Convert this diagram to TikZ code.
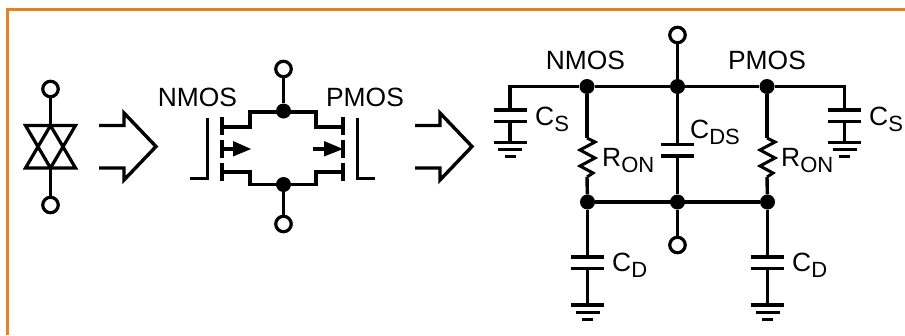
\documentclass[tikz,border=0pt]{standalone}
\usepackage{fontspec}
\setmainfont{Liberation Sans}
\usetikzlibrary{arrows.meta}
\definecolor{frameorange}{RGB}{232,128,36}
\tikzset{
  wire/.style={line width=3.4pt,line cap=butt,line join=miter},
  plate/.style={line width=3.4pt},
  term/.style={circle,draw,line width=3.2pt,fill=white,minimum size=15.5pt,inner sep=0pt},
  dotnode/.style={circle,fill=black,minimum size=15pt,inner sep=0pt},
  lab/.style={font=\fontsize{26.4}{26.4}\selectfont,inner sep=0pt},
}
\newcommand{\capgnd}[2]{%
  \draw[plate] (#1-16.5,#2) -- (#1+16.5,#2) (#1-16.5,#2+11.5) -- (#1+16.5,#2+11.5);
}
\newcommand{\gnd}[2]{%
  \draw[plate] (#1-16.5,#2) -- (#1+16.5,#2);
  \draw[line width=3pt] (#1-12,#2+7) -- (#1+12,#2+7);
  \draw[line width=3pt] (#1-5.5,#2+14) -- (#1+5.5,#2+14);
}
\newcommand{\zig}[2]{%
  \draw[wire,line width=3pt] (#1,#2) -- (#1+8,#2+4) -- (#1-7,#2+12) -- (#1+8,#2+20) -- (#1-7,#2+28) -- (#1+6,#2+35) -- (#1,#2+39);
}
\newcommand{\sublab}[4]{%
  \node[lab,anchor=base west] at (#1,#2) {#3\raisebox{-6pt}{\fontsize{22}{22}\selectfont #4}};
}
\begin{document}
\begin{tikzpicture}[x=1pt,y=-1pt]
\useasboundingbox (0,0) rectangle (905,335);
\fill[white] (0,0) rectangle (905,335);
\draw[frameorange,line width=3pt] (7.5,335) -- (7.5,9.5) -- (905,9.5);

% --- left symbol
\node[term] (t1) at (50.5,89) {};
\node[term] (t2) at (50.5,205) {};
\coordinate (s1) at (50.5,125.5);
\coordinate (s2) at (50.5,168);
\draw[wire] (t1) -- (s1);
\draw[wire] (t2) -- (s2);
\draw[wire,line width=3.2pt] (25.5,125.5) -- (75.5,125.5) -- (50.5,168) -- cycle;
\draw[wire,line width=3.2pt] (25.5,168) -- (75.5,168) -- (50.5,125.5) -- cycle;

% --- block arrows
\draw[wire] (99,125.5) -- (124,125.5) -- (124,113) -- (156,146.5) -- (124,180) -- (124,168) -- (99,168);
\draw[wire] (415,125.5) -- (440,125.5) -- (440,113) -- (472,146.5) -- (440,180) -- (440,168) -- (415,168);

% --- MOS pair
\node[term] (m1) at (283.5,69) {};
\node[term] (m2) at (283.5,224) {};
\node[dotnode] (md1) at (283.5,111) {};
\node[dotnode] (md2) at (283.5,184.5) {};
\draw[wire] (m1) -- (md1);
\draw[wire] (m2) -- (md2);
\draw[wire] (222,127) -- (250,127) -- (250,112) -- (316,112) -- (316,127) -- (344,127);
\draw[wire] (222,172) -- (250,172) -- (250,184.5) -- (316,184.5) -- (316,172) -- (344,172);
\foreach \x in {222,343}{
  \draw[line width=4pt] (\x,117) -- (\x,134.5);
  \draw[line width=4pt] (\x,140) -- (\x,157.5);
  \draw[line width=4pt] (\x,163) -- (\x,181);
}
\draw[wire] (190,178.5) -- (207.5,178.5) -- (207.5,117.5);
\draw[wire] (357.5,117.5) -- (357.5,178.5) -- (375,178.5);
\draw[wire] (222,149) -- (235,149);
\fill (233,141) -- (251,149) -- (233,156.5) -- cycle;
\draw[wire] (313,149) -- (325,149);
\fill (324,141) -- (343,149) -- (324,156.5) -- cycle;
\node[lab,anchor=base] at (197.5,106) {NMOS};
\node[lab,anchor=base] at (365,106) {PMOS};

% --- equivalent circuit
\node[term] (top) at (677.5,35) {};
\node[term] (bot) at (677.5,245) {};
\node[dotnode] (n1) at (587,86.5) {};
\node[dotnode] (n2) at (677.5,86.5) {};
\node[dotnode] (n3) at (767,86.5) {};
\node[dotnode] (n4) at (587.5,202) {};
\node[dotnode] (n5) at (677.5,202) {};
\node[dotnode] (n6) at (767.5,202) {};
\draw[wire] (top) -- (n2);
\draw[wire] (n5) -- (bot);
\draw[wire] (n4) -- (n6);
\draw[wire] (510,110) -- (510,86.5) -- (n1) -- (n2) -- (n3) -- (844.5,86.5) -- (844.5,110);
\capgnd{510}{110}
\draw[wire] (510,121.5) -- (510,142);
\gnd{510}{142.5}
\capgnd{844.5}{110}
\draw[wire] (844.5,121.5) -- (844.5,142);
\gnd{844.5}{142.5}
\draw[wire] (n1) -- (587,138);
\zig{587}{138}
\draw[wire] (587,177) -- (n4);
\draw[wire] (n3) -- (767,138);
\zig{767}{138}
\draw[wire] (767,177) -- (n6);
\draw[wire] (n2) -- (677.5,144.5);
\capgnd{677.5}{144.5}
\draw[wire] (677.5,156) -- (n5);
\draw[wire] (n4) -- (587.5,257);
\capgnd{587.5}{257}
\draw[wire] (587.5,268.5) -- (587.5,305);
\gnd{587.5}{305}
\draw[wire] (n6) -- (767.5,257);
\capgnd{767.5}{257}
\draw[wire] (767.5,268.5) -- (767.5,305);
\gnd{767.5}{305}
\node[lab,anchor=base] at (585.5,69) {NMOS};
\node[lab,anchor=base] at (767,69) {PMOS};
\sublab{535}{125}{C}{S}
\sublab{869}{125}{C}{S}
\sublab{690}{138}{C}{DS}
\sublab{602}{166.5}{R}{ON}
\sublab{781}{166.5}{R}{ON}
\sublab{612}{271}{C}{D}
\sublab{792}{271}{C}{D}
\end{tikzpicture}
\end{document}
